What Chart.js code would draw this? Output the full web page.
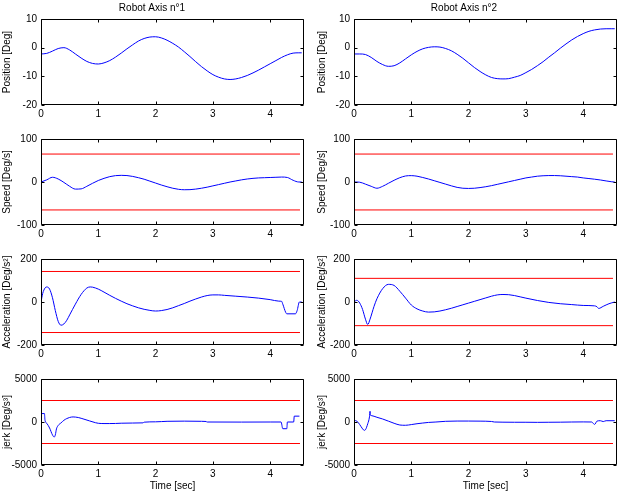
<!DOCTYPE html>
<html>
<head>
<meta charset="utf-8">
<script src="https://cdn.jsdelivr.net/npm/chart.js@4.4.1/dist/chart.umd.min.js"></script>
<style>
body{margin:0;background:#fff}
#wrap{position:relative;width:622px;height:495px}
canvas{position:absolute}
</style>
</head>
<body>
<div id="wrap">
<canvas id="pos1" width="311" height="120" style="left:0;top:0"></canvas>
<canvas id="pos2" width="311" height="120" style="left:311px;top:0"></canvas>
<canvas id="spd1" width="311" height="120" style="left:0;top:120px"></canvas>
<canvas id="spd2" width="311" height="120" style="left:311px;top:120px"></canvas>
<canvas id="acc1" width="311" height="120" style="left:0;top:240px"></canvas>
<canvas id="acc2" width="311" height="120" style="left:311px;top:240px"></canvas>
<canvas id="jrk1" width="311" height="135" style="left:0;top:360px"></canvas>
<canvas id="jrk2" width="311" height="135" style="left:311px;top:360px"></canvas>
</div>
<script>
// time grid used by position and speed curves
var tGrid = [0,0.1,0.2,0.3,0.4,0.5,0.6,0.7,0.8,0.9,1.0,1.1,1.2,1.3,1.4,1.5,1.6,1.7,1.8,1.9,2.0,2.1,2.2,2.3,2.4,2.5,2.6,2.7,2.8,2.9,3.0,3.1,3.2,3.3,3.4,3.5,3.6,3.7,3.8,3.9,4.0,4.1,4.2,4.3,4.4,4.5,4.55];

var pos1 = [-2.2,-2.0,-1.2,-0.3,0.0,-0.8,-2.2,-3.6,-4.8,-5.5,-5.7,-5.3,-4.5,-3.3,-1.9,-0.4,1.0,2.3,3.2,3.7,3.8,3.4,2.6,1.5,0.2,-1.4,-3.1,-4.9,-6.6,-8.1,-9.4,-10.3,-10.9,-11.1,-10.9,-10.4,-9.7,-8.8,-7.8,-6.7,-5.6,-4.5,-3.4,-2.5,-1.9,-1.8,-1.8];
var pos2 = [-2.2,-2.2,-2.4,-3.4,-4.8,-5.9,-6.5,-6.3,-5.3,-3.9,-2.5,-1.3,-0.4,0.1,0.3,0.2,-0.3,-1.1,-2.3,-3.7,-5.3,-6.9,-8.3,-9.5,-10.4,-10.8,-10.9,-10.8,-10.3,-9.7,-8.7,-7.6,-6.3,-4.9,-3.3,-1.8,-0.2,1.3,2.7,3.9,4.9,5.7,6.2,6.5,6.6,6.6,6.6];

var spd1 = [0,5,11,7,-1,-10,-16.5,-16,-10,-3,3.5,8.5,12.5,14.8,15.5,15,13,10,6.5,2,-2.5,-7,-11,-14.5,-17,-18,-17.8,-16.5,-14.5,-12,-9,-6,-3,0,2.5,5,7,8.5,9.5,10,10.5,11,11.5,10.5,4,0,0];
var spd2 = [0,-0.5,-5,-10,-14.5,-10,-3,4,10,14,14.8,13.5,10.5,7,3,-1,-5,-9,-12.5,-14.5,-15,-14.5,-13,-11,-8.5,-5.5,-2.5,0.5,3.5,6.5,9.5,11.5,13.5,14.5,15,15,14.5,13.5,12.5,11.5,9.5,8,6.5,4.7,2.5,0.5,0];

var tAcc1 = [0,0.03,0.07,0.1,0.15,0.2,0.25,0.3,0.35,0.4,0.45,0.5,0.6,0.7,0.8,0.86,0.9,1.0,1.1,1.2,1.3,1.4,1.5,1.6,1.7,1.8,1.9,2.0,2.1,2.2,2.3,2.4,2.5,2.6,2.7,2.8,2.9,3.0,3.1,3.2,3.4,3.6,3.8,4.0,4.15,4.2,4.22,4.27,4.29,4.44,4.47,4.51,4.55];
var acc1 = [0,40,65,70,60,20,-40,-90,-108,-102,-85,-60,-10,35,65,70,69,60,46,31,17,4,-8,-18,-27,-34,-39,-42,-40,-35,-27,-17,-7,4,14,23,30,33,33,31,27,23,18,11,4,3,-10,-48,-55,-55,-40,0,0];

var tAcc2 = [0,0.05,0.1,0.15,0.2,0.24,0.28,0.35,0.4,0.5,0.6,0.7,0.8,0.9,1.0,1.1,1.2,1.3,1.4,1.5,1.6,1.7,1.8,1.9,2.0,2.1,2.2,2.3,2.4,2.5,2.6,2.7,2.8,2.9,3.0,3.2,3.4,3.6,3.8,4.0,4.2,4.24,4.27,4.35,4.45,4.55];
var acc2 = [0,8,-5,-35,-80,-105,-80,-20,15,62,82,77,50,18,-14,-32,-42,-47,-46,-42,-36,-29,-21,-13,-5,3,11,19,27,33,35,34,30,24,18,7,-2,-8,-12,-16,-18,-22,-30,-20,-8,0];

var tJerk1 = [0,0.06,0.07,0.1,0.15,0.2,0.23,0.25,0.27,0.3,0.35,0.4,0.45,0.5,0.56,0.65,0.75,0.85,0.95,1.0,1.1,1.2,1.3,1.4,1.6,1.78,1.8,2.0,2.2,2.5,2.8,2.88,2.9,3.5,4.0,4.19,4.22,4.29,4.3,4.41,4.42,4.51];
var jerk1 = [980,980,200,-150,-700,-1500,-1750,-1500,-800,-400,-100,200,400,530,590,520,330,120,-80,-150,-180,-180,-170,-140,-120,-100,-20,20,80,100,80,60,0,-10,0,0,-780,-780,0,0,680,680];

var tJerk2 = [0,0.05,0.1,0.15,0.18,0.2,0.24,0.27,0.28,0.285,0.3,0.4,0.5,0.6,0.7,0.8,0.9,1.0,1.1,1.2,1.3,1.43,1.6,1.8,2.0,2.2,2.4,2.45,2.6,2.8,3.0,3.2,3.4,3.6,3.8,4.0,4.15,4.18,4.2,4.24,4.3,4.35,4.4,4.55];
var jerk2 = [200,100,-300,-800,-970,-900,-200,600,1250,800,750,550,350,100,-150,-350,-380,-300,-200,-120,-50,0,80,110,110,100,60,0,-20,-30,-30,-40,-30,-20,0,10,0,-200,-280,100,150,50,150,150];

// limit lines (red)
var tLim = [0, 4.52];
var spdLim1 = 65, spdLim2 = 65;
var accLim1 = 142, accLim2 = 110;
var jerkLim1 = 2500, jerkLim2 = 2500;

var FONT = '"Liberation Sans", Arial, Helvetica, sans-serif';
Chart.defaults.font.family = FONT;
Chart.defaults.font.size = 10;
Chart.defaults.color = '#000';

function pts(t, v) {
	var out = [];
	for (var i = 0; i < t.length; i++) out.push({x: t[i], y: v[i]});
	return out;
}

// black box with inward ticks, matlab style
var framePlugin = {
	id: 'frame',
	afterDatasetsDraw: function(chart) {
		var ctx = chart.ctx, a = chart.chartArea;
		var sx = chart.scales.x, sy = chart.scales.y;
		var l = Math.round(a.left) + 0.5, r = Math.round(a.right) - 0.5;
		var t = Math.round(a.top) + 0.5, b = Math.round(a.bottom) - 0.5;
		ctx.save();
		ctx.strokeStyle = '#000';
		ctx.lineWidth = 1;
		ctx.beginPath();
		ctx.rect(l, t, r - l, b - t);
		sx.ticks.forEach(function(tk) {
			var px = Math.round(sx.getPixelForValue(tk.value)) + 0.5;
			ctx.moveTo(px, b); ctx.lineTo(px, b - 3);
			ctx.moveTo(px, t); ctx.lineTo(px, t + 3);
		});
		sy.ticks.forEach(function(tk) {
			var py = Math.round(sy.getPixelForValue(tk.value)) + 0.5;
			ctx.moveTo(l, py); ctx.lineTo(l + 3, py);
			ctx.moveTo(r, py); ctx.lineTo(r - 3, py);
		});
		ctx.stroke();
		ctx.restore();
	}
};

function makePanel(id, col, row, t, v, lim, yMin, yMax, yStep, yTitle, title) {
	var last = (row === 3);
	var datasets = [{
		data: pts(t, v),
		borderColor: '#0000ff',
		borderWidth: 1,
		pointRadius: 0,
		cubicInterpolationMode: 'monotone'
	}];
	if (lim !== null) {
		datasets.push({data: pts(tLim, [lim, lim]), borderColor: '#ff0000', borderWidth: 1, pointRadius: 0});
		datasets.push({data: pts(tLim, [-lim, -lim]), borderColor: '#ff0000', borderWidth: 1, pointRadius: 0});
	}
	var fmt = function(val) { return String(val); };
	new Chart(document.getElementById(id), {
		type: 'line',
		data: {datasets: datasets},
		plugins: [framePlugin],
		options: {
			responsive: false,
			animation: false,
			events: [],
			layout: {padding: {left: 0, right: col === 0 ? 7 : 5, top: title ? 0 : 19, bottom: 0}},
			plugins: {
				legend: {display: false},
				tooltip: {enabled: false},
				title: {
					display: !!title,
					text: title || '',
					font: {size: 10, weight: 'normal'},
					color: '#000',
					padding: {top: 2, bottom: 5}
				}
			},
			scales: {
				x: {
					type: 'linear',
					min: 0,
					max: 4.59,
					grid: {display: false, drawTicks: false},
					border: {display: false},
					ticks: {stepSize: 1, includeBounds: false, padding: 3, maxRotation: 0, autoSkip: false, callback: fmt},
					title: {display: last, text: 'Time [sec]', padding: {top: 0, bottom: 3}},
					afterFit: function(s) { s.height = last ? 30 : 15; }
				},
				y: {
					min: yMin,
					max: yMax,
					grid: {display: false, drawTicks: false},
					border: {display: false},
					ticks: {stepSize: yStep, includeBounds: false, padding: 4, callback: fmt},
					title: {display: true, text: yTitle, padding: {top: col === 0 ? 1 : 5, bottom: 0}},
					afterFit: function(s) { s.width = col === 0 ? 41 : 43; }
				}
			}
		}
	});
}

makePanel('pos1', 0, 0, tGrid, pos1, null, -20, 10, 10, 'Position [Deg]', 'Robot Axis n°1');
makePanel('pos2', 1, 0, tGrid, pos2, null, -20, 10, 10, 'Position [Deg]', 'Robot Axis n°2');
makePanel('spd1', 0, 1, tGrid, spd1, spdLim1, -100, 100, 100, 'Speed [Deg/s]');
makePanel('spd2', 1, 1, tGrid, spd2, spdLim2, -100, 100, 100, 'Speed [Deg/s]');
makePanel('acc1', 0, 2, tAcc1, acc1, accLim1, -200, 200, 200, 'Acceleration [Deg/s²]');
makePanel('acc2', 1, 2, tAcc2, acc2, accLim2, -200, 200, 200, 'Acceleration [Deg/s²]');
makePanel('jrk1', 0, 3, tJerk1, jerk1, jerkLim1, -5000, 5000, 5000, 'jerk [Deg/s³]');
makePanel('jrk2', 1, 3, tJerk2, jerk2, jerkLim2, -5000, 5000, 5000, 'jerk [Deg/s³]');
</script>
</body>
</html>
